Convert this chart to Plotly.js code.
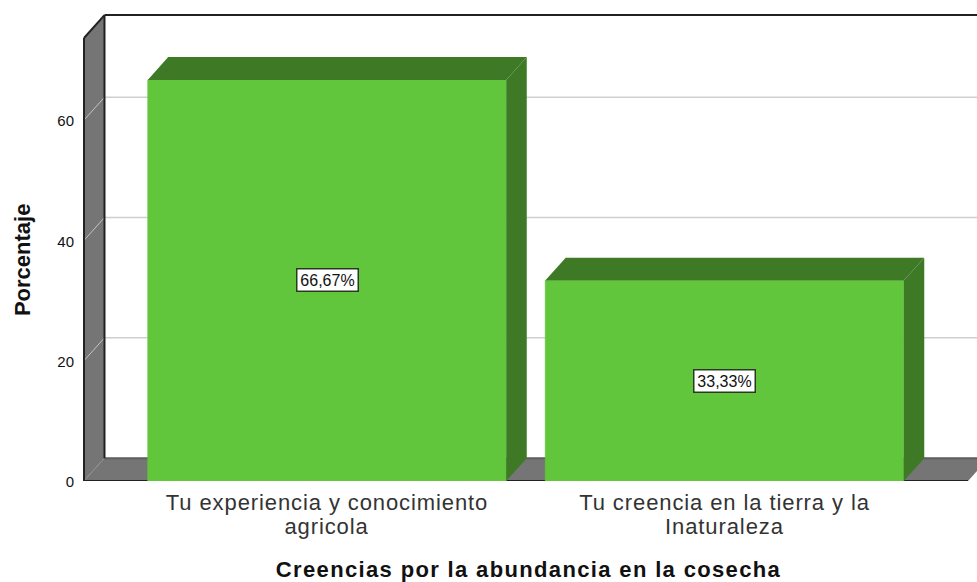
<!DOCTYPE html>
<html>
<head>
<meta charset="utf-8">
<script src="https://cdn.plot.ly/plotly-3.0.1.min.js"></script>
<style>
html,body{margin:0;padding:0;background:#fff}#chart{width:977px;height:582px}
#chart .xtick text{letter-spacing:0.9px}
#chart .xtitle{letter-spacing:1.35px}
#chart .second-line{letter-spacing:0.9px}
</style>
</head>
<body>
<div id="chart"></div>
<script>
const categoryFirstLines = ["Tu experiencia y conocimiento", "Tu creencia en la tierra y la"];
const categorySecondLines = ["agricola", "Inaturaleza"];
const categoryIndex = [0, 1];
const percentages = [66.67, 33.33];
const percentLabels = ["66,67%", "33,33%"];
const yTicks = [0, 20, 40, 60];
const gridTicks = [20, 40, 60];

const barWidth = 0.902, depthX = 0.0515, depthY = 3.8;
const xMin = -0.6214, xMax = 1.6352, yMax = 78.3;
const wallLeft = -0.6113, floorRight = 1.6126, wallTop = 73.65;

const GREEN = "#61c63b", DARK = "#3e7a25", GRAY = "#757575", EDGE = "#222222";

const poly = pts => "M" + pts.map(p => p[0] + "," + p[1]).join("L") + "Z";
const shape = (pts, fill, lineColor, lineWidth) => ({
  type: "path", xref: "x", yref: "y", layer: "below", path: poly(pts),
  fillcolor: fill, line: {color: lineColor || fill, width: lineWidth === undefined ? 0 : lineWidth}
});
const seg = (x0, y0, x1, y1, color, width) => ({
  type: "line", xref: "x", yref: "y", layer: "below", x0, y0, x1, y1, line: {color, width}
});

const bx = wallLeft + depthX;
const shapes = [];
gridTicks.forEach(t => {
  shapes.push(seg(bx, t + depthY, xMax, t + depthY, "#cfcfcf", 1.5));
});
shapes.push(shape([[wallLeft, 0], [bx, depthY], [bx, wallTop + depthY], [wallLeft, wallTop]], GRAY));
gridTicks.forEach(t => {
  shapes.push(seg(wallLeft, t, bx, t + depthY, "#c4c4c4", 1));
});
shapes.push(seg(wallLeft, 0, bx, depthY, "#a8a8a8", 1));
shapes.push(shape([[wallLeft, 0], [floorRight, 0], [floorRight + depthX, depthY], [bx, depthY]], GRAY));
shapes.push(seg(bx, depthY, xMax, depthY, "#5e5e5e", 2));
shapes.push(seg(wallLeft, 0, floorRight, 0, EDGE, 2));
shapes.push(seg(wallLeft, 0, wallLeft, wallTop, EDGE, 2));
shapes.push(seg(wallLeft, wallTop, bx, wallTop + depthY, EDGE, 2));
shapes.push(seg(bx, depthY, bx, wallTop + depthY, EDGE, 2));
shapes.push(seg(bx, wallTop + depthY, xMax, wallTop + depthY, EDGE, 2));

const frontBars = {
  type: "bar", x: categoryIndex, y: percentages, width: barWidth,
  marker: {color: GREEN, line: {width: 0.6, color: GREEN}}, hoverinfo: "none", showlegend: false
};
const topFaces = categoryIndex.map((c, i) => {
  const l = c - barWidth / 2, r = c + barWidth / 2, v = percentages[i];
  return {type: "scatter", mode: "lines", x: [l, r, r + depthX, l + depthX, l], y: [v, v, v + depthY, v + depthY, v],
    fill: "toself", fillcolor: DARK, line: {width: 0, color: DARK}, hoverinfo: "none", showlegend: false};
});
const sideFaces = categoryIndex.map((c, i) => {
  const r = c + barWidth / 2, v = percentages[i];
  return {type: "scatter", mode: "lines", x: [r, r + depthX, r + depthX, r, r], y: [0, depthY, v + depthY, v, 0],
    fill: "toself", fillcolor: DARK, line: {width: 0, color: DARK}, hoverinfo: "none", showlegend: false};
});

const annotations = categoryIndex.map((c, i) => ({
  x: c, y: percentages[i] / 2, xref: "x", yref: "y", text: percentLabels[i], showarrow: false,
  font: {family: "Liberation Sans", size: 16, color: "#111"}, width: 60, height: 21, align: "center",
  bgcolor: "#ffffff", bordercolor: "#2a3a22", borderwidth: 1.5, borderpad: 0
})).concat(categoryIndex.map((c, i) => ({
  x: c, y: 0, xref: "x", yref: "y", yanchor: "middle", yshift: -45, text: categorySecondLines[i], showarrow: false,
  font: {family: "Liberation Sans", size: 22, color: "#333"}
}))).concat([{
  x: 0, y: 0.469, xref: "paper", yref: "paper", xshift: -58, yanchor: "middle", xanchor: "center", textangle: -90,
  text: "<b>Porcentaje</b>", showarrow: false, font: {family: "Liberation Sans", size: 22, color: "#111"}
}]);

const layout = {
  width: 977, height: 582, showlegend: false, hovermode: false, bargap: 0,
  paper_bgcolor: "#ffffff", plot_bgcolor: "#ffffff",
  margin: {l: 80, r: 0, t: 10, b: 101, pad: 0},
  xaxis: {
    range: [xMin, xMax], tickmode: "array", tickvals: categoryIndex, ticktext: categoryFirstLines,
    showgrid: false, zeroline: false, showline: false, ticks: "outside", ticklen: 2, tickcolor: "rgba(0,0,0,0)",
    tickfont: {family: "Liberation Sans", size: 22, color: "#333"},
    title: {text: "<b>Creencias por la abundancia en la cosecha</b>", standoff: 50, font: {family: "Liberation Sans", size: 22, color: "#111"}},
    automargin: false
  },
  yaxis: {
    range: [0, yMax], tickmode: "array", tickvals: yTicks, ticktext: yTicks.map(String),
    showgrid: false, zeroline: false, showline: false, ticks: "outside", ticklen: 2, tickcolor: "rgba(0,0,0,0)",
    ticklabelshift: 1,
    tickfont: {family: "Liberation Sans", size: 15, color: "#111"},
    automargin: false
  },
  shapes, annotations
};
Plotly.newPlot("chart", [frontBars].concat(topFaces, sideFaces), layout, {displayModeBar: false, staticPlot: true}).then(() => {
  document.querySelectorAll("#chart .annotation").forEach(a => {
    const t = a.querySelector(".annotation-text");
    if (t && categorySecondLines.includes(t.textContent)) t.classList.add("second-line");
  });
});
</script>
</body>
</html>
